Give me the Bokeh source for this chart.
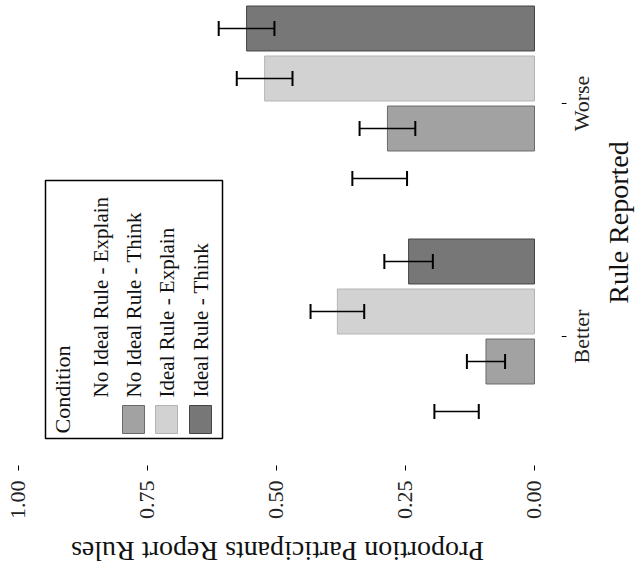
import math
from bokeh.plotting import figure
from bokeh.layouts import row, column
from bokeh.models import Range1d, FixedTicker, Whisker, TeeHead, ColumnDataSource
from bokeh.transform import factor_cmap
from bokeh.core.properties import value
from bokeh.embed import file_html
from bokeh.resources import INLINE

# ---------------- data ----------------
categories = ["Better", "Worse"]
conditions = ["No Ideal Rule - Explain", "No Ideal Rule - Think",
              "Ideal Rule - Explain", "Ideal Rule - Think"]
better_vals = [0.151, 0.094, 0.382, 0.244]
worse_vals = [0.300, 0.285, 0.523, 0.558]
better_err = [0.043, 0.037, 0.052, 0.047]
worse_err = [0.053, 0.054, 0.054, 0.054]
tick_values = [0.0, 0.25, 0.5, 0.75, 1.0]
tick_labels = ["0.00", "0.25", "0.50", "0.75", "1.00"]

x_title = "Proportion Participants Report Rules"
y_title = "Rule Reported"
legend_title = "Condition"

# ---------------- styles ----------------
fill_palette = ["#ffffff", "#a2a2a2", "#d2d2d2", "#777777"]
line_palette = ["#ffffff", "#6a6a6a", "#b4b4b4", "#444444"]
FONT = "Liberation Serif"
TXT = "#111111"

slot = 0.2146
bar_h = 0.193

vals = {"Better": better_vals, "Worse": worse_vals}
errs = {"Better": better_err, "Worse": worse_err}
ys, vs, lo, hi, cs = [], [], [], [], []
for ci, cat in enumerate(categories):
    for k, cond in enumerate(conditions):
        ys.append(ci + (k - 1.5) * slot)
        vs.append(vals[cat][k])
        lo.append(vals[cat][k] - errs[cat][k])
        hi.append(vals[cat][k] + errs[cat][k])
        cs.append(cond)
src = ColumnDataSource(dict(y=ys, v=vs, lower=lo, upper=hi, cond=cs))

FW, FH = 561, 465
BOTTOM = 70
RIGHT_W = 74
TITLE_H = 50
X0, X1 = 1.03488, -0.05233
Y0, Y1 = -0.55365, 1.44206

# ---------------- main panel ----------------
p = figure(frame_width=FW, frame_height=FH,
           x_range=Range1d(X0, X1), y_range=Range1d(Y0, Y1),
           output_backend="svg", toolbar_location=None,
           y_axis_location=None, min_border=0, min_border_bottom=BOTTOM,
           outline_line_color=None)
p.grid.visible = False

p.hbar(y="y", left=0, right="v", height=bar_h, source=src,
       fill_color=factor_cmap("cond", fill_palette, conditions),
       line_color=factor_cmap("cond", line_palette, conditions),
       line_width=1)

w = Whisker(source=src, base="y", lower="lower", upper="upper",
            dimension="width", line_color="black", line_width=1.6,
            lower_head=TeeHead(size=15, line_width=2, line_color="black"),
            upper_head=TeeHead(size=15, line_width=2, line_color="black"))
w.level = "overlay"
p.add_layout(w)

xa = p.xaxis[0]
xa.ticker = FixedTicker(ticks=tick_values)
xa.major_label_overrides = dict(zip(tick_values, tick_labels))
xa.major_label_orientation = math.pi / 2
xa.axis_line_color = None
xa.major_tick_in = 0
xa.major_tick_out = 5
xa.minor_tick_line_color = None
xa.major_label_standoff = 10
xa.major_label_text_font = FONT
xa.major_label_text_font_size = "22px"
xa.major_label_text_color = "#222222"

def px2x(px):
    return X0 + px * (X1 - X0) / FW

def py2y(py):
    return Y1 - py * (Y1 - Y0) / FH

# rotated legend (drawn by hand: Bokeh legends cannot rotate)
p.quad(left=px2x(45), right=px2x(222), top=py2y(180), bottom=py2y(438),
       fill_color="white", line_color="black", line_width=1.5)
p.text(x=[px2x(62)], y=[py2y(433)], text=[legend_title], angle=math.pi / 2,
       text_align="left", text_baseline="middle",
       text_font=value(FONT), text_font_size="22px", text_color=TXT)
item_px = [100, 133, 166, 200]
p.text(x=[px2x(c) for c in item_px], y=[py2y(397)] * len(conditions),
       text=conditions, angle=math.pi / 2,
       text_align="left", text_baseline="middle",
       text_font=value(FONT), text_font_size="21px", text_color=TXT)
p.rect(x=[px2x(c) for c in item_px], y=[py2y(419)] * len(conditions),
       width=22, height=28, width_units="screen", height_units="screen",
       fill_color=fill_palette, line_color=line_palette, line_width=1)

# ---------------- right strip: category ticks, labels, title ----------------
r = figure(width=RIGHT_W, height=FH + BOTTOM, x_range=Range1d(0, RIGHT_W),
           y_range=p.y_range, output_backend="svg", toolbar_location=None,
           x_axis_location=None, y_axis_location=None, min_border=0,
           min_border_bottom=BOTTOM, outline_line_color=None)
r.grid.visible = False
cat_pos = list(range(len(categories)))
r.segment(x0=0, x1=5, y0=cat_pos, y1=cat_pos, line_color="black", line_width=1)
r.text(x=[20] * len(categories), y=cat_pos, text=categories, angle=math.pi / 2,
       text_align="center", text_baseline="alphabetic",
       text_font=value(FONT), text_font_size="22px", text_color="#222222")
r.text(x=[57], y=[py2y(222)], text=[y_title], angle=math.pi / 2,
       text_align="center", text_baseline="alphabetic",
       text_font=value(FONT), text_font_size="28px", text_color=TXT)

# ---------------- bottom strip: value-axis title ----------------
b = figure(width=FW + RIGHT_W, height=TITLE_H, x_range=Range1d(0, FW + RIGHT_W),
           y_range=Range1d(TITLE_H, 0), output_backend="svg", toolbar_location=None,
           x_axis_location=None, y_axis_location=None, min_border=0,
           outline_line_color=None)
b.grid.visible = False
b.text(x=[277], y=[16], text=[x_title], angle=math.pi,
       text_align="center", text_baseline="alphabetic",
       text_font=value(FONT), text_font_size="28px", text_color=TXT)

layout = column(row(p, r, spacing=0), b, spacing=0)
open("out.html", "w").write(file_html(layout, INLINE))
